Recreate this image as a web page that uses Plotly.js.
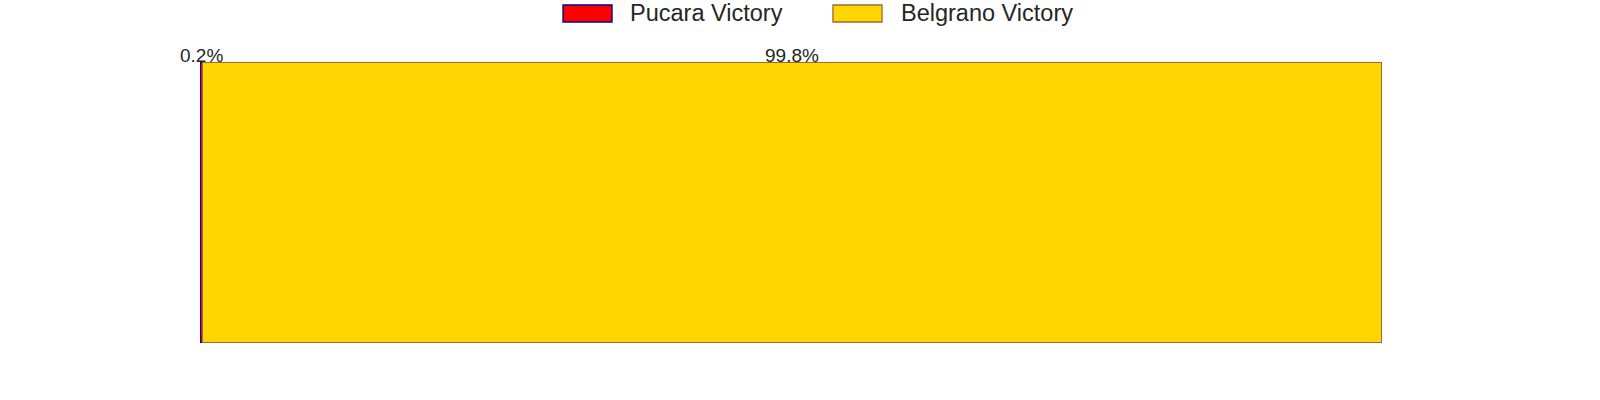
<!DOCTYPE html>
<html>
<head>
<meta charset="utf-8">
<script src="https://cdn.plot.ly/plotly-3.0.1.min.js"></script>
<style>html,body{margin:0;padding:0;background:#fff;}#chart{width:1600px;height:400px;}</style>
</head>
<body>
<div id="chart"></div>
<script>
const categories = ['Match'];
const seriesNames = ['Pucara Victory', 'Belgrano Victory'];
const pucara = [0.2];
const belgrano = [99.8];

const fillColors = ['#FF0000', '#FFD700'];
const edgeColors = ['#00008B', '#9C6A35'];
const textColor = '#262626';
const fontFamily = 'Arial, "Liberation Sans", sans-serif';

const series = [pucara, belgrano];
const traces = series.map((vals, i) => ({
  type: 'bar',
  orientation: 'h',
  name: seriesNames[i],
  y: categories,
  x: vals,
  marker: {color: fillColors[i], line: {color: edgeColors[i], width: 1.5}},
  showlegend: false,
  hoverinfo: 'x+name'
}));

// labels centred over each segment
const annotations = [];
let cum = 0;
series.forEach((vals) => {
  const v = vals[0];
  annotations.push({
    x: cum + v / 2, xref: 'x', y: 1, yref: 'paper',
    xanchor: 'center', yanchor: 'bottom', yshift: -6,
    text: v.toFixed(1) + '%', showarrow: false,
    font: {size: 19, color: textColor, family: fontFamily}
  });
  cum += v;
});

// custom legend (big swatches)
const legendX = [[0.3071, 0.3486, 0.3620], [0.5355, 0.5770, 0.5915]];
const shapes = [];
seriesNames.forEach((name, i) => {
  shapes.push({
    type: 'rect', xref: 'paper', yref: 'paper',
    x0: legendX[i][0], x1: legendX[i][1], y0: 1.1423, y1: 1.2028,
    fillcolor: fillColors[i], line: {color: edgeColors[i], width: 1.3}
  });
  annotations.push({
    x: legendX[i][2], xref: 'paper', y: 1.1726, yref: 'paper',
    xanchor: 'left', yanchor: 'middle', text: name, showarrow: false,
    font: {size: 23.5, color: textColor, family: fontFamily}
  });
});

const layout = {
  width: 1600, height: 400,
  margin: {l: 200, r: 218, t: 62, b: 57, pad: 0},
  paper_bgcolor: '#ffffff', plot_bgcolor: '#ffffff',
  barmode: 'stack', bargap: 0,
  showlegend: false,
  xaxis: {range: [0, 100], visible: false, fixedrange: true},
  yaxis: {range: [-0.5, 0.5], visible: false, fixedrange: true},
  annotations: annotations,
  shapes: shapes,
  font: {family: fontFamily, color: textColor}
};

Plotly.newPlot('chart', traces, layout, {displayModeBar: false, staticPlot: true});
</script>
</body>
</html>
